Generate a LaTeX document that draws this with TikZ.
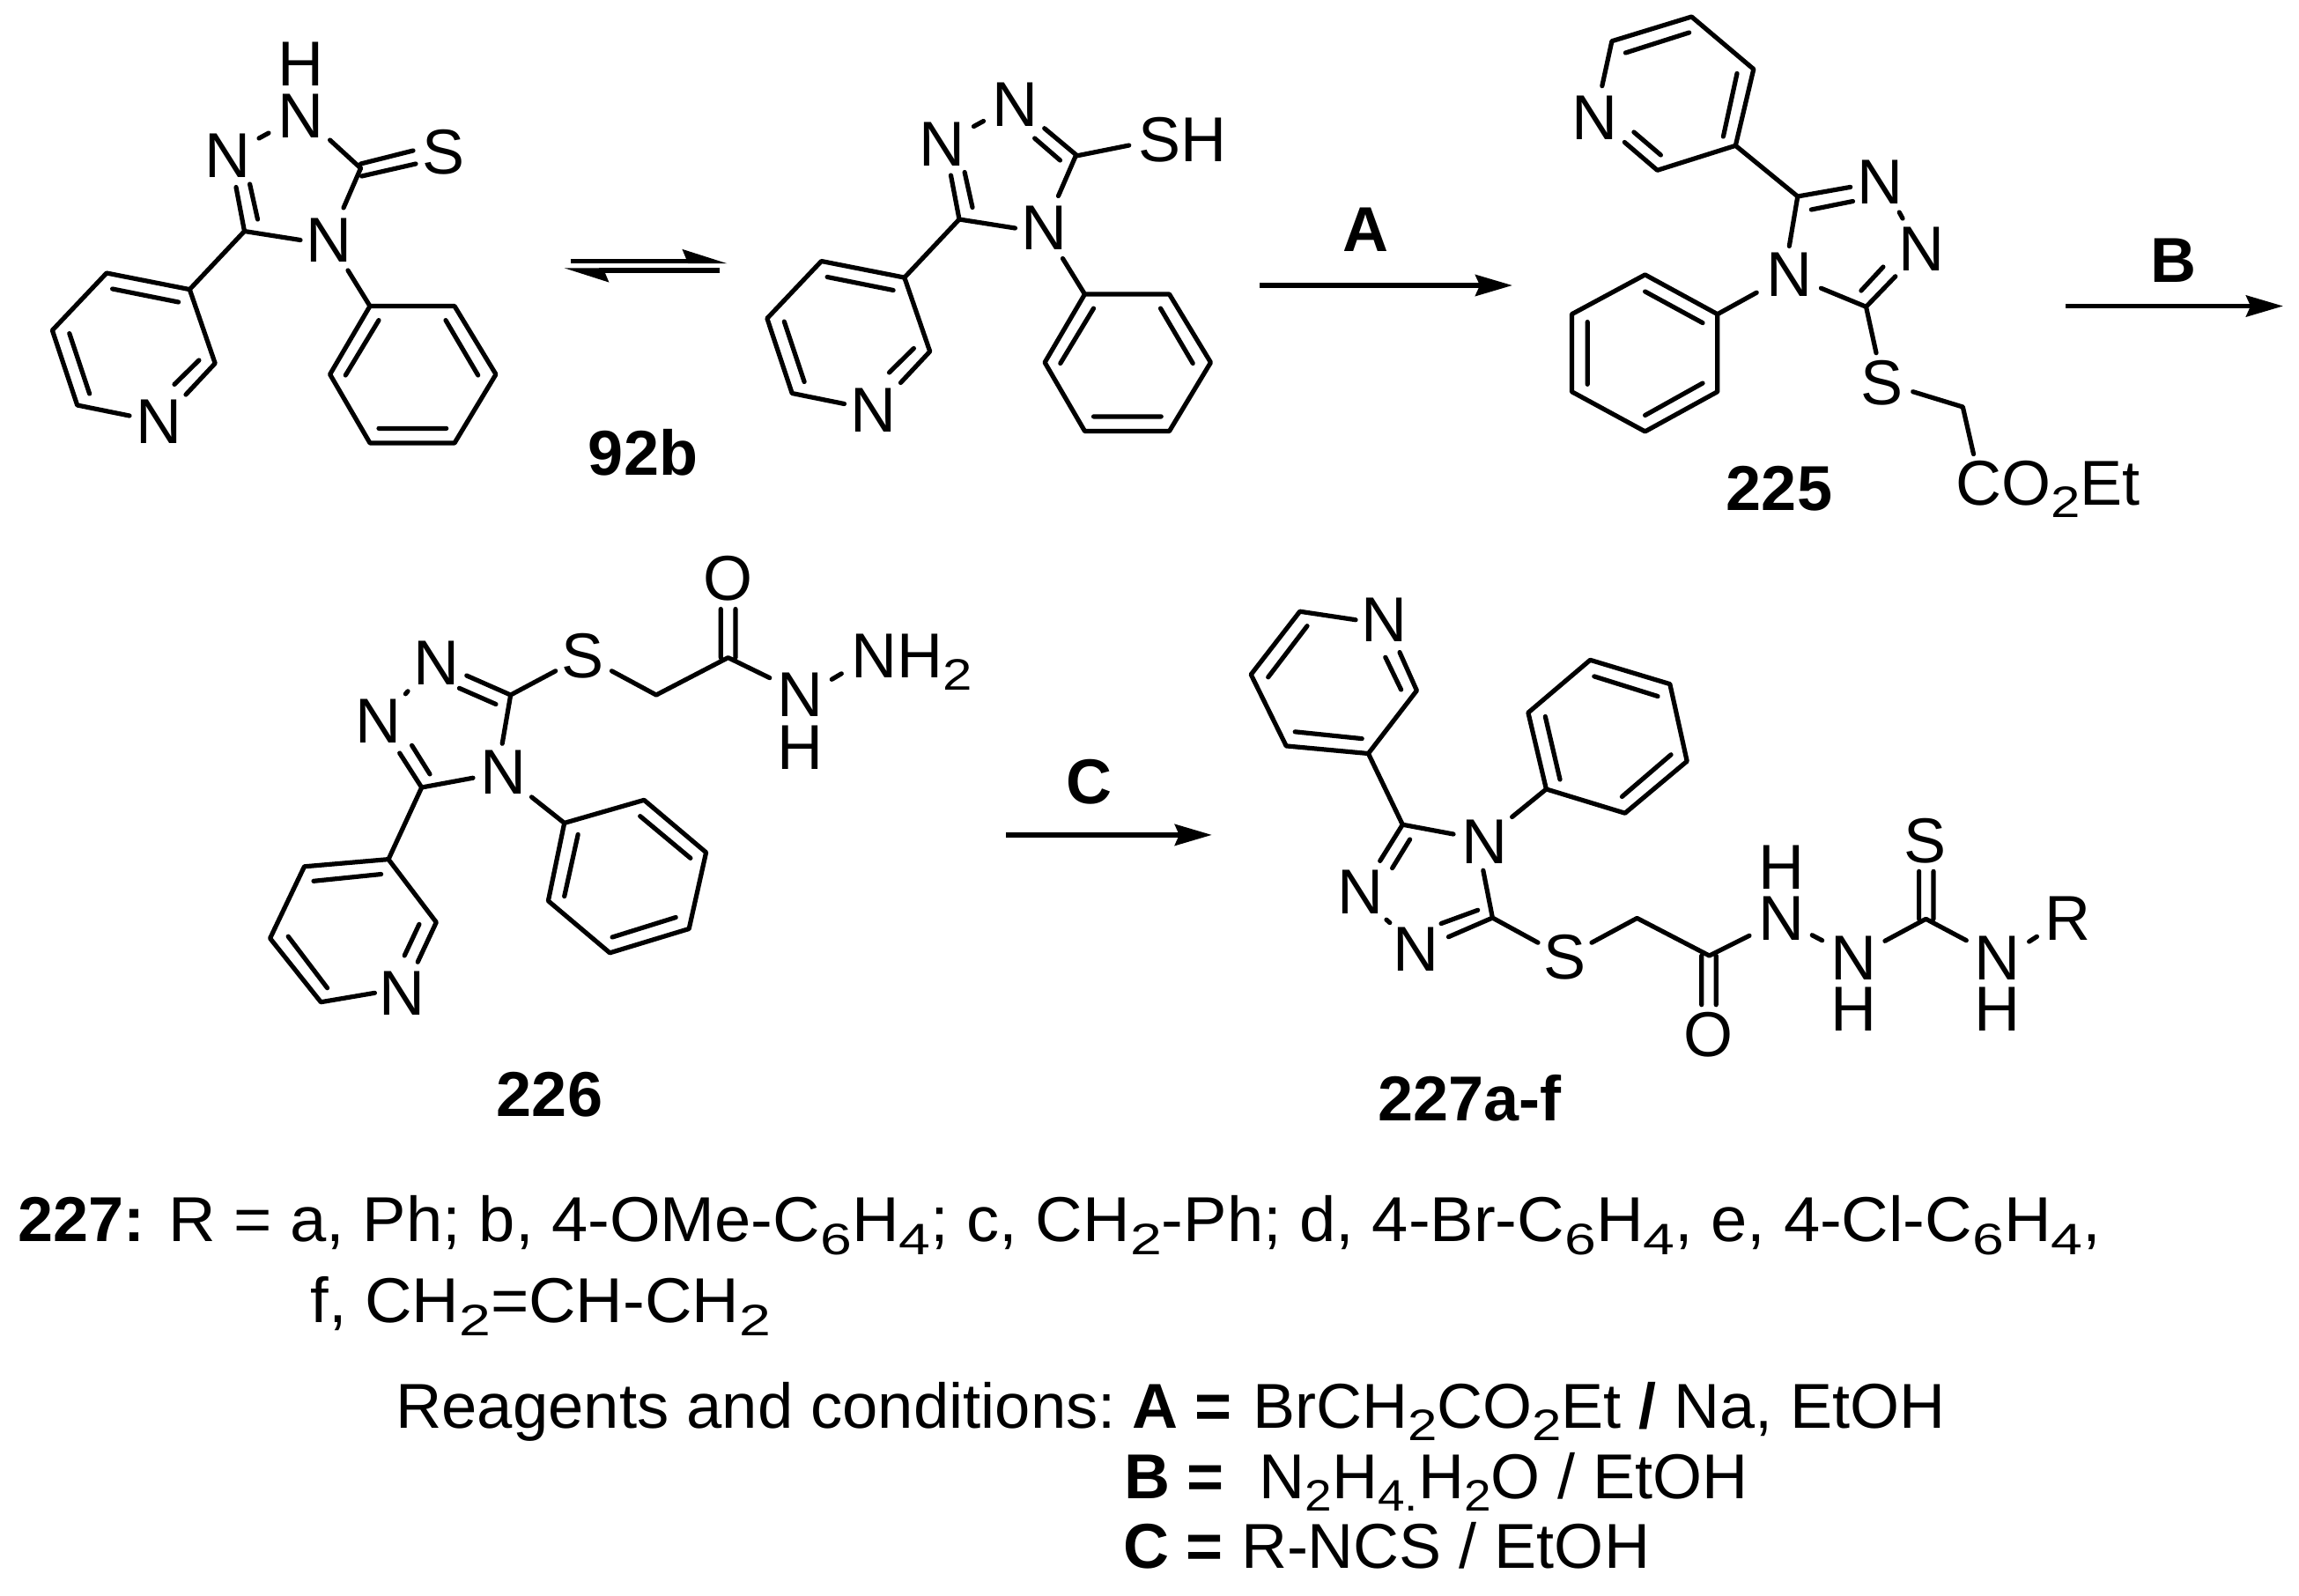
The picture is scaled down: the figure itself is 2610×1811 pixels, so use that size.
\documentclass[tikz,border=0pt]{standalone}
\usepackage{fontspec}
\setmainfont{Liberation Sans}
\usetikzlibrary{arrows.meta}
\newcommand\atomsize{\fontsize{36}{40}\selectfont}
\newcommand\sbs[1]{\raisebox{-7pt}{\scalebox{1.2}[1]{\fontsize{25}{25}\selectfont\mdseries #1}}}
\newcommand\sbn[1]{\raisebox{-7pt}{\scalebox{1.1}[1]{\fontsize{25}{25}\selectfont\mdseries #1}}}
\newcommand\sbw[1]{\raisebox{-7.5pt}{\scalebox{1.25}[1]{\fontsize{25}{25}\selectfont\mdseries #1}}}
\tikzset{
  bond/.style={line width=2.6pt,line cap=round,line join=round,black},
  atom/.style={inner sep=0pt,outer sep=0pt,font=\atomsize,anchor=center},
  cmpd/.style={inner sep=0pt,outer sep=0pt,font=\atomsize\bfseries,anchor=center},
  txt/.style={inner sep=0pt,outer sep=0pt,font=\atomsize,anchor=base west},
  rxn/.style={line width=2.7pt,black,-{Stealth[length=21pt,width=12pt,inset=2.5pt]}},
  harp/.style={line width=2.7pt,black,-{Stealth[harpoon,length=21pt,width=13pt,inset=2.5pt]}},
}
% shared skeleton of the two tautomers
\newcommand\core[1]{%
  \node[atom] (#1n1) at (258,177) {N};
  \node[atom] (#1n2) at (341,132) {N};
  \node[atom] (#1n4) at (373.5,272.5) {N};
  \node[atom] (#1npy) at (180.4,479) {N};
  \draw[bond] (294,157)--(305,151)
    (409.5,191)--(390,236)
    (277.5,262.5)--(341,272.5)
    (277.5,262.5)--(268,212.5) (292.5,249)--(283.6,209)
    (277.5,262.5)--(215.3,328.6)
    (147,472)--(87.7,460)--(59.4,375)--(121,310)--(215.3,328.6)--(244.2,412.5)--(211,448)
    (127.6,328)--(202.6,343) (78.8,378.6)--(101.6,447) (225.9,409)--(198,436.4)
    (395,307)--(420,347.5)
    (420,347.5)--(516,347.5)--(563,425)--(516,503)--(420,503)--(374.6,425)--cycle
    (430,363.6)--(392.3,426) (506,363.6)--(542.7,426) (430,486.4)--(506.7,486.4);
}
\begin{document}
\begin{tikzpicture}[x=0.5pt,y=-0.5pt]
\useasboundingbox (0,0) rectangle (2610,1811);
% 92b thione
\core{a}
\node[atom] (ah) at (341,73) {H};
\node[atom] (as) at (504,173) {S};
\draw[bond] (374.6,159)--(409.5,191)
  (409.5,186)--(469,171) (410.6,200)--(472,186);
% equilibrium
\coordinate (equ1) at (647.6,296.4); \coordinate (equ2) at (825.8,296.4);
\coordinate (eql1) at (817.4,307); \coordinate (eql2) at (640,307);
\draw[harp] (equ1)--(equ2);
\draw[harp] (eql1)--(eql2);
\node[cmpd] (l92b) at (730,514) {92b};
% thiol
\begin{scope}[shift={(811.5,-13.5)}]
\core{b}
\end{scope}
\node[atom,anchor=west] (bsh) at (1292,159) {SH};
\draw[bond] (1185.7,145.7)--(1222.9,176.8) (1174.6,157)--(1203.5,182)
  (1222.9,176.8)--(1281.7,165);
% arrow A
\coordinate (a1) at (1430,324); \coordinate (a2) at (1717,324);
\draw[rxn] (a1)--(a2);
\node[cmpd] (lA) at (1550,261) {A};
% 225
\node[atom] (cn1) at (1810.5,134) {N};
\node[atom] (cn2) at (2134,206.7) {N};
\node[atom] (cn3) at (2181.2,283.2) {N};
\node[atom] (cn4) at (2031.3,312) {N};
\node[atom] (cs) at (2136.8,434.4) {S};
\node[txt] (cco) at (2220,573.3) {CO\sbs{2}Et};
\node[cmpd] (l225) at (2020,555) {225};
\draw[bond] (1818.8,97.6)--(1829.9,46.7)--(1920.4,19)--(1990.8,78.5)--(1970.3,165.3)--(1881.5,193.3)--(1844.3,161.5)
  (1972,83.4)--(1956.4,155) (1917.6,37)--(1845.4,60) (1854.9,150)--(1885.4,176)
  (1970.3,165.3)--(2040.8,223)
  (2040.8,223)--(2100.7,212.4) (2056.3,238)--(2103.5,228.5)
  (2040.8,223)--(2031.3,279.4)
  (2156.2,241)--(2160,248)
  (2118.5,348.3)--(2151.8,313.8) (2112.9,330)--(2137.9,303)
  (2118.5,348.3)--(2067.4,327.2)
  (2118.5,348.3)--(2130,400.7)
  (2171.7,444.7)--(2228.3,462)--(2240.5,515.5)
  (1994.2,332.2)--(1949.8,356.7)
  (1949.8,356.7)--(1867.6,311.9)--(1784.4,356.7)--(1784.4,444.7)--(1867.6,489.9)--(1949.8,444.7)--cycle
  (1867.6,331)--(1933,366.6) (1802.2,365.5)--(1802.2,436.3) (1867.6,471.5)--(1933,435);
% arrow B
\coordinate (b1) at (2345,347.5); \coordinate (b2) at (2592,347.5);
\draw[rxn] (b1)--(b2);
\node[cmpd] (lB) at (2467,295.5) {B};
% 226
\node[atom] (dn1) at (495.3,753) {N};
\node[atom] (dn2) at (429.8,819) {N};
\node[atom] (dn4) at (571.3,876.7) {N};
\node[atom] (ds) at (661.8,744.4) {S};
\node[atom] (do) at (826.6,656.4) {O};
\node[atom] (dn5) at (908.7,788.7) {N};
\node[atom] (dh5) at (908.7,848.5) {H};
\node[txt] (dnh) at (966,769.6) {NH\sbs{2}};
\node[atom] (dnpy) at (456.5,1128.2) {N};
\node[cmpd] (l226) at (624,1243) {226};
\draw[bond] (579.7,789)--(529.7,767) (563,799.5)--(521.4,781.3)
  (460.4,787.8)--(463,784.8)
  (478.7,894)--(453.7,855) (488,878.9)--(467.6,846.3)
  (478.7,894)--(537,883.2)
  (579.7,789)--(570.2,844.2)
  (579.7,789)--(630.7,761.8)
  (694.5,761.8)--(745,789)--(826.6,746.6)--(873.8,769.6)
  (818.3,746.6)--(818.3,691.5) (835,746.6)--(835,691.5)
  (944.3,771.3)--(955.3,764.8)
  (478.7,894)--(441,975.6)
  (425.4,1127.3)--(364.3,1137.7)--(306.6,1065.3)--(345.5,983.8)--(441,975.6)--(495.3,1047.1)--(474.2,1092.2)
  (432.6,992.5)--(356,1000.3) (327.2,1063.2)--(371.6,1121.7) (475.9,1049.3)--(459.2,1084.9)
  (603.5,904.9)--(640.7,934.4)
  (640.7,934.4)--(731.2,908.3)--(801.6,967.8)--(782.2,1054.5)--(692.3,1081.8)--(622.4,1022.8)--cycle
  (726.7,926.6)--(783.9,974.3) (767.2,1041.5)--(695.1,1064) (656.2,947.4)--(640.7,1017.6);
% arrow C
\coordinate (c1) at (1142.2,947.9); \coordinate (c2) at (1375.8,947.9);
\draw[rxn] (c1)--(c2);
\node[cmpd] (lC) at (1236.5,888) {C};
% 227
\node[atom] (en1) at (1571.2,703.7) {N};
\node[atom] (en4) at (1685,955.7) {N};
\node[atom] (en2) at (1544.5,1013) {N};
\node[atom] (en3) at (1607.2,1078) {N};
\node[atom] (es) at (1776.5,1086.7) {S};
\node[atom] (eo) at (1939.5,1175) {O};
\node[atom] (en5) at (2022,1042.3) {N};
\node[atom] (eh5) at (2022,984.3) {H};
\node[atom] (en6) at (2104.8,1087.3) {N};
\node[atom] (eh6) at (2104.8,1146) {H};
\node[atom] (es2) at (2185.8,955) {S};
\node[atom] (en7) at (2267.5,1087.3) {N};
\node[atom] (eh7) at (2267.5,1146) {H};
\node[atom] (er) at (2347.5,1042.3) {R};
\node[cmpd] (l227) at (1668.3,1247) {227a-f};
\draw[bond] (1589,740.6)--(1608.4,784)--(1553.4,855.5)--(1460.2,846.9)--(1420.2,765.8)--(1475.7,694.2)--(1539,703.7)
  (1590.6,783)--(1572.8,746.2) (1484,710.7)--(1439.7,768.8) (1470.2,830.8)--(1546.2,838.6)
  (1553.4,855.5)--(1592.3,936.2)
  (1592.3,936.2)--(1650,947)
  (1592.3,936.2)--(1566.7,977.4) (1600.6,953)--(1580.6,985.6)
  (1574,1044.2)--(1577.8,1047.6)
  (1694.4,1042)--(1644.4,1063.7) (1677.7,1033.3)--(1636.1,1048.5)
  (1694.4,1042)--(1683.8,988.2)
  (1694.4,1042)--(1746,1070.2)
  (1807,1070.2)--(1858.5,1042.4)--(1940.5,1085)--(1986,1062.3)
  (1931.7,1085)--(1931.7,1140.7) (1948.2,1085)--(1948.2,1140.7)
  (2057.2,1061.7)--(2068.6,1067.7)
  (2139.9,1068.3)--(2186.4,1043.3)--(2232.3,1067.7)
  (2178.6,1043.3)--(2178.6,989.3) (2195,1043.3)--(2195,989.3)
  (2303.6,1069)--(2312.4,1063.3)
  (1716.6,927.5)--(1755.4,895.9)
  (1755.4,895.9)--(1734.9,809.1)--(1805.3,749.3)--(1895.8,776.6)--(1915.2,864.2)--(1844.8,923.2)--cycle
  (1754.3,813.5)--(1771,885) (1809.8,767.9)--(1882,790.5) (1897,856.8)--(1841.4,904.5);
% text
\node[txt] (t1) at (20.7,1409.3) {\textbf{227:} \scalebox{1.03}[1]{R = a, Ph; b, 4-OMe-C\sbw{6}H\sbw{4}; c, CH\sbw{2}-Ph; d, 4-Br-C\sbw{6}H\sbw{4}, e, 4-Cl-C\sbw{6}H\sbw{4},}};
\node[txt] (t2) at (352.4,1501) {\scalebox{1.03}[1]{f, CH\sbw{2}=CH-CH\sbw{2}}};
\node[txt] (t3) at (449.4,1621.7) {\scalebox{1.006}[1]{Reagents and conditions:}};
\node[txt] (t4) at (1285,1621.7) {\textbf{A =}};
\node[txt] (t5) at (1422,1621.7) {BrCH\sbs{2}CO\sbs{2}Et \textbf{/} Na, EtOH};
\node[txt] (t6) at (1276,1701) {\textbf{B =}};
\node[txt] (t7) at (1429.7,1701) {N\sbn{2}H\sbn{4.}H\sbn{2}O / EtOH};
\node[txt] (t8) at (1275,1780) {\textbf{C =}};
\node[txt] (t9) at (1409,1780) {R-NCS / EtOH};
\end{tikzpicture}
\end{document}
